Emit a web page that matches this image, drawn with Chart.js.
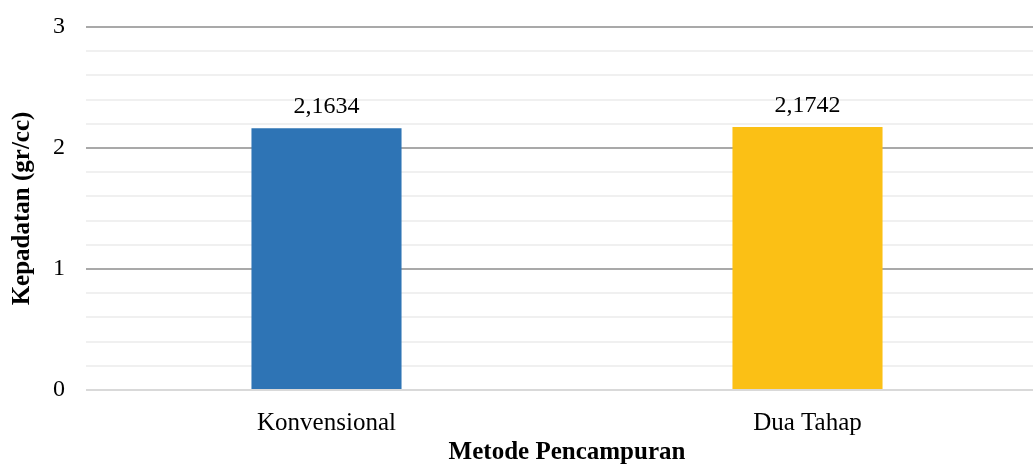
<!DOCTYPE html>
<html>
<head>
<meta charset="utf-8">
<script src="https://cdn.jsdelivr.net/npm/chart.js@4.4.0/dist/chart.umd.min.js"></script>
<style>
  html, body { margin: 0; padding: 0; background: #fff; overflow: hidden; }
  #wrap { position: absolute; left: 0; top: 0; width: 1050px; height: 468px; }
</style>
</head>
<body>
<div id="wrap"><canvas id="chart"></canvas></div>
<script>
// Mixing method vs. density
const categories = ['Konvensional', 'Dua Tahap'];
const densityValues = [2.1634, 2.1742];
const barColors = ['#2E74B5', '#FBC015'];
const yTickLabels = ['0', '1', '2', '3'];

const FONT = '"Liberation Serif", "Times New Roman", serif';

const isMajor = v => Math.abs(v - Math.round(v)) < 1e-6;

// Writes each bar's value above it, using a decimal comma
const valueLabels = {
  id: 'valueLabels',
  afterDatasetsDraw(chart) {
    const ctx = chart.ctx;
    const meta = chart.getDatasetMeta(0);
    ctx.save();
    ctx.font = '24px ' + FONT;
    ctx.fillStyle = '#000';
    ctx.textAlign = 'center';
    ctx.textBaseline = 'alphabetic';
    meta.data.forEach((bar, i) => {
      const txt = String(chart.data.datasets[0].data[i]).replace('.', ',');
      ctx.fillText(txt, bar.x, bar.y - 15);
    });
    ctx.restore();
  }
};

new Chart(document.getElementById('chart'), {
  type: 'bar',
  data: {
    labels: categories,
    datasets: [{
      data: densityValues,
      backgroundColor: barColors,
      borderWidth: 0,
      barPercentage: 0.312,
      categoryPercentage: 1
    }]
  },
  options: {
    responsive: true,
    maintainAspectRatio: false,
    devicePixelRatio: 1,
    animation: false,
    layout: { padding: { left: 0, right: 2, top: 27, bottom: 0 } },
    plugins: { legend: { display: false }, tooltip: { enabled: false } },
    scales: {
      x: {
        grid: { display: false, drawTicks: false },
        border: { display: false },
        ticks: { color: '#000', font: { family: FONT, size: 25 }, padding: 18 },
        title: {
          display: true,
          text: 'Metode Pencampuran',
          color: '#000',
          font: { family: FONT, size: 25, weight: 'bold' },
          padding: { top: 0, bottom: 0 }
        },
        afterFit(scale) { scale.height = 78; }
      },
      y: {
        min: 0,
        max: 3,
        border: { display: false },
        grid: {
          drawTicks: false,
          lineWidth: 2,
          color: c => {
            const v = c.tick.value;
            if (Math.abs(v) < 1e-6) return '#d9d9d9';
            return isMajor(v) ? '#a9a9a9' : '#f0f0f0';
          }
        },
        ticks: {
          stepSize: 0.2,
          autoSkip: false,
          padding: 21,
          color: '#000',
          font: { family: FONT, size: 24 },
          callback: v => isMajor(v) ? yTickLabels[Math.round(v)] : ''
        },
        title: {
          display: true,
          text: 'Kepadatan (gr/cc)',
          color: '#000',
          font: { family: FONT, size: 25, weight: 'bold' },
          padding: { top: 8, bottom: 0 }
        },
        afterFit(scale) {
          scale.width = 86;
          scale.paddingTop = 0;
          scale.paddingBottom = 0;
        }
      }
    }
  },
  plugins: [valueLabels]
});
</script>
</body>
</html>
